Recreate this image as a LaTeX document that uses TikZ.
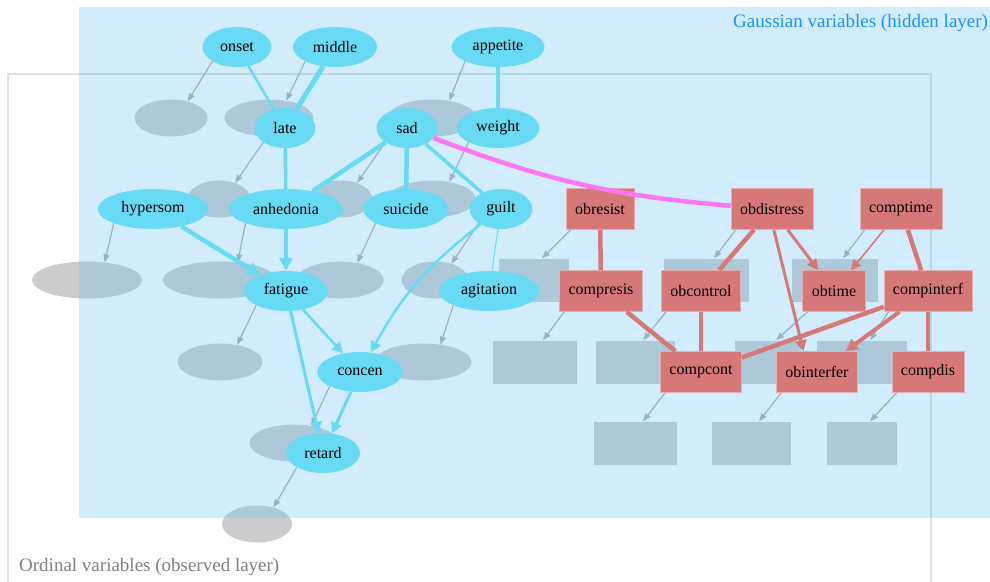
\documentclass[tikz,border=0pt]{standalone}
\usepackage{fontspec}
\setmainfont{Liberation Serif}
\usetikzlibrary{shapes.geometric,arrows.meta}
\definecolor{hidblue}{RGB}{104,218,244}
\definecolor{hidred}{RGB}{214,120,120}
\definecolor{veilblue}{RGB}{105,194,245}
\definecolor{obsgray}{RGB}{204,204,204}
\definecolor{obsline}{RGB}{172,172,172}
\definecolor{linkpink}{RGB}{255,119,240}
\definecolor{labblue}{RGB}{30,144,255}
\pgfdeclarelayer{observed}
\pgfdeclarelayer{veil}
\pgfsetlayers{observed,veil,main}

\begin{document}
\begin{tikzpicture}[x=1pt,y=-1pt,
    hid/.style={ellipse,fill=hidblue,inner xsep=7.5pt,inner ysep=1pt,
      minimum width=61pt,minimum height=40pt,font=\fontsize{16}{18}\selectfont},
    hidbox/.style={rectangle,fill=hidred,draw=hidred!60!white,line width=0.6pt,
      inner xsep=9pt,minimum height=41pt,font=\fontsize{16}{18}\selectfont},
    obs/.style={ellipse,fill=obsgray,minimum height=37pt,inner sep=0pt},
    obsbox/.style={rectangle,fill=obsgray,minimum height=43pt,inner sep=0pt},
    obsarrow/.style={draw=obsline,line width=1.2pt,-{Triangle[length=8pt,width=6pt]}},
    bline/.style={draw=hidblue,line width=#1},
    rline/.style={draw=hidred,line width=#1},
    headed/.style={-{Triangle[length=#1,width=#1]}}]
  \useasboundingbox (0,0) rectangle (990,581);

  % hidden layer
  \node[hid] (onset)     at (237,47)  {onset};
  \node[hid] (middle)    at (335,47)  {middle};
  \node[hid] (appetite)  at (498,47)  {appetite};
  \node[hid] (late)      at (285,128) {late};
  \node[hid] (sad)       at (407,128) {sad};
  \node[hid] (weight)    at (498,128) {weight};
  \node[hid] (hypersom)  at (153,209) {hypersom};
  \node[hid] (anhedonia) at (286,209) {anhedonia};
  \node[hid] (suicide)   at (406,209) {suicide};
  \node[hid] (guilt)     at (501,209) {guilt};
  \node[hid] (fatigue)   at (286,291) {fatigue};
  \node[hid] (agitation) at (489,291) {agitation};
  \node[hid] (concen)    at (360,372) {concen};
  \node[hid] (retard)    at (323,453) {retard};

  \node[hidbox] (obresist)   at (600,209) {obresist};
  \node[hidbox] (obdistress) at (772,209) {obdistress};
  \node[hidbox] (comptime)   at (901,209) {comptime};
  \node[hidbox] (compresis)  at (601,291) {compresis};
  \node[hidbox] (obcontrol)  at (701,291) {obcontrol};
  \node[hidbox] (obtime)     at (834,291) {obtime};
  \node[hidbox] (compinterf) at (928,291) {compinterf};
  \node[hidbox] (compcont)   at (701,372) {compcont};
  \node[hidbox] (obinterfer) at (817,372) {obinterfer};
  \node[hidbox] (compdis)    at (928,372) {compdis};

  \draw[bline=2.5pt] (onset) -- (late);
  \draw[bline=5pt] (middle) -- (late);
  \draw[bline=4pt] (appetite) -- (weight);
  \draw[bline=3.5pt] (late) -- (anhedonia);
  \draw[bline=4.5pt] (sad) -- (anhedonia);
  \draw[bline=4.5pt] (sad) -- (suicide);
  \draw[bline=3.5pt] (sad) -- (guilt);
  \draw[bline=1pt] (guilt) -- (agitation);
  \draw[bline=4.5pt,headed=13pt] (hypersom) -- (fatigue);
  \draw[bline=4.5pt,headed=13pt] (anhedonia) -- (fatigue);
  \draw[bline=2.5pt,headed=11pt] (guilt) to[bend right=12] (concen);
  \draw[bline=2.5pt,headed=11pt] (fatigue) -- (concen);
  \draw[bline=3pt,headed=11pt] (fatigue) -- (retard);
  \draw[bline=3pt,headed=11pt] (concen) -- (retard);

  \draw[rline=4.5pt] (obresist) -- (compresis);
  \draw[rline=4.5pt] (obdistress) -- (obcontrol);
  \draw[rline=3pt,headed=11pt] (obdistress) -- (obtime);
  \draw[rline=3pt,headed=11pt] (obdistress.-85) -- (obinterfer.123);
  \draw[rline=1.5pt,headed=10pt] (comptime) -- (obtime);
  \draw[rline=4.5pt] (comptime) -- (compinterf);
  \draw[rline=4.5pt] (compresis) -- (compcont);
  \draw[rline=4.5pt] (obcontrol) -- (compcont);
  \draw[rline=4.5pt] (compinterf) -- (compcont);
  \draw[rline=4pt,headed=12pt] (compinterf) -- (obinterfer);
  \draw[rline=4.5pt] (compinterf) -- (compdis);

  \draw[linkpink,line width=4.5pt] (sad) to[bend right=8] (obdistress);

  \node[anchor=west,inner sep=0pt,text=labblue,font=\fontsize{19}{22}\selectfont]
    (hidlabel) at (733,23) {Gaussian variables (hidden layer)};

  \begin{pgfonlayer}{veil}
    \fill[veilblue,fill opacity=0.31] (79,7) rectangle (1000,518);
  \end{pgfonlayer}

  % observed layer
  \begin{pgfonlayer}{observed}
    \draw[gray!25,line width=1.5pt] (8,74) rectangle (931,640);
    \node[anchor=west,inner sep=0pt,text=gray,font=\fontsize{19}{22}\selectfont]
      (obslabel) at (19,567) {Ordinal variables (observed layer)};

    \node[obs,minimum width=73pt]  (onset-o)     at ([shift={(-66,71)}]onset) {};
    \node[obs,minimum width=89pt]  (middle-o)    at ([shift={(-66,71)}]middle) {};
    \node[obs,minimum width=89pt]  (appetite-o)  at ([shift={(-66,71)}]appetite) {};
    \node[obs,minimum width=63pt]  (late-o)      at ([shift={(-66,71)}]late) {};
    \node[obs,minimum width=63pt]  (sad-o)       at ([shift={(-66,71)}]sad) {};
    \node[obs,minimum width=87pt]  (weight-o)    at ([shift={(-66,71)}]weight) {};
    \node[obs,minimum width=110pt] (hypersom-o)  at ([shift={(-66,71)}]hypersom) {};
    \node[obs,minimum width=114pt] (anhedonia-o) at ([shift={(-66,71)}]anhedonia) {};
    \node[obs,minimum width=87pt]  (suicide-o)   at ([shift={(-66,71)}]suicide) {};
    \node[obs,minimum width=67pt]  (guilt-o)     at ([shift={(-66,71)}]guilt) {};
    \node[obs,minimum width=85pt]  (fatigue-o)   at ([shift={(-66,71)}]fatigue) {};
    \node[obs,minimum width=97pt]  (agitation-o) at ([shift={(-66,71)}]agitation) {};
    \node[obs,minimum width=89pt]  (concen-o)    at ([shift={(-66,71)}]concen) {};
    \node[obs,minimum width=70pt]  (retard-o)    at ([shift={(-66,71)}]retard) {};

    \node[obsbox,minimum width=70pt] (obresist-o)   at ([shift={(-66,71)}]obresist) {};
    \node[obsbox,minimum width=85pt] (obdistress-o) at ([shift={(-66,71)}]obdistress) {};
    \node[obsbox,minimum width=86pt] (comptime-o)   at ([shift={(-66,71)}]comptime) {};
    \node[obsbox,minimum width=84pt] (compresis-o)  at ([shift={(-66,71)}]compresis) {};
    \node[obsbox,minimum width=79pt] (obcontrol-o)  at ([shift={(-66,71)}]obcontrol) {};
    \node[obsbox,minimum width=66pt] (obtime-o)     at ([shift={(-66,71)}]obtime) {};
    \node[obsbox,minimum width=90pt] (compinterf-o) at ([shift={(-66,71)}]compinterf) {};
    \node[obsbox,minimum width=83pt] (compcont-o)   at ([shift={(-66,71)}]compcont) {};
    \node[obsbox,minimum width=79pt] (obinterfer-o) at ([shift={(-66,71)}]obinterfer) {};
    \node[obsbox,minimum width=70pt] (compdis-o)    at ([shift={(-66,71)}]compdis) {};

    \draw[obsarrow] (onset.south west) -- (onset-o.45);
    \draw[obsarrow] (middle.south west) -- (middle-o.45);
    \draw[obsarrow] (appetite.south west) -- (appetite-o.45);
    \draw[obsarrow] (late.south west) -- (late-o.45);
    \draw[obsarrow] (sad.south west) -- (sad-o.45);
    \draw[obsarrow] (weight.south west) -- (weight-o.45);
    \draw[obsarrow] (hypersom.south west) -- (hypersom-o.45);
    \draw[obsarrow] (anhedonia.south west) -- (anhedonia-o.45);
    \draw[obsarrow] (suicide.south west) -- (suicide-o.45);
    \draw[obsarrow] (guilt.south west) -- (guilt-o.45);
    \draw[obsarrow] (fatigue.south west) -- (fatigue-o.45);
    \draw[obsarrow] (agitation.south west) -- (agitation-o.45);
    \draw[obsarrow] (concen.south west) -- (concen-o.45);
    \draw[obsarrow] (retard.south west) -- (retard-o.45);

    \draw[obsarrow] ([xshift=5pt]obresist.south west) -- ([xshift=8pt]obresist-o.north);
    \draw[obsarrow] ([xshift=5pt]obdistress.south west) -- ([xshift=8pt]obdistress-o.north);
    \draw[obsarrow] ([xshift=5pt]comptime.south west) -- ([xshift=8pt]comptime-o.north);
    \draw[obsarrow] ([xshift=5pt]compresis.south west) -- ([xshift=8pt]compresis-o.north);
    \draw[obsarrow] ([xshift=5pt]obcontrol.south west) -- ([xshift=8pt]obcontrol-o.north);
    \draw[obsarrow] ([xshift=5pt]obtime.south west) -- ([xshift=8pt]obtime-o.north);
    \draw[obsarrow] ([xshift=5pt]compinterf.south west) -- ([xshift=8pt]compinterf-o.north);
    \draw[obsarrow] ([xshift=5pt]compcont.south west) -- ([xshift=8pt]compcont-o.north);
    \draw[obsarrow] ([xshift=5pt]obinterfer.south west) -- ([xshift=8pt]obinterfer-o.north);
    \draw[obsarrow] ([xshift=5pt]compdis.south west) -- ([xshift=8pt]compdis-o.north);
  \end{pgfonlayer}
\end{tikzpicture}
\end{document}
